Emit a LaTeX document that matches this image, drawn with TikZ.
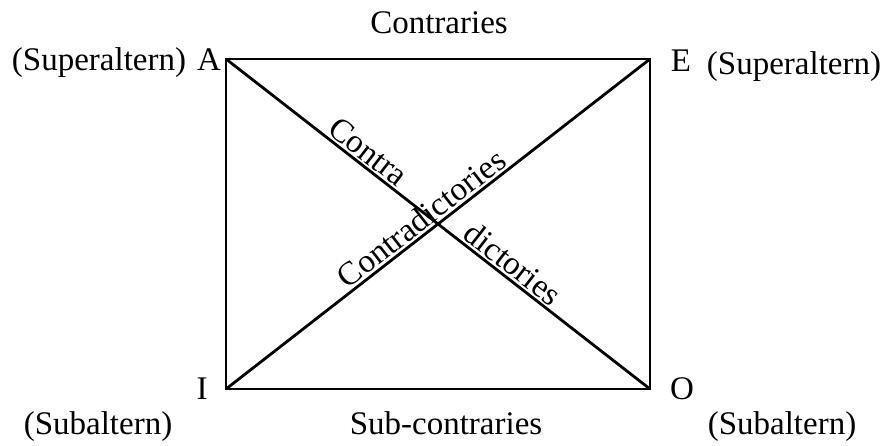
\documentclass[tikz,border=0pt]{standalone}
\usepackage{fontspec}
\setmainfont{Liberation Serif}
\begin{document}
\begin{tikzpicture}[x=0.5pt,y=-0.5pt,
  lbl/.style={font=\fontsize{16.5}{20}\selectfont, inner sep=0pt, anchor=base},
  diag/.style={font=\fontsize{16.5}{20}\selectfont, inner sep=1.5pt, sloped, above},
  edge/.style={line width=1.4pt, line join=miter}]
\useasboundingbox (0,0) rectangle (881,445);
\coordinate (A) at (226,59);
\coordinate (E) at (650,59);
\coordinate (O) at (650,389);
\coordinate (I) at (226,389);
\draw[edge] (A) -- (E) -- (O) -- (I) -- cycle;
\draw[edge] (A) -- (O);
\draw[edge] (I) -- (E);
\node[lbl] (contraries) at (439,33) {Contraries};
\node[lbl] (subcontraries) at (446,434) {Sub-contraries};
\node[lbl] (la) at (209,70) {A};
\node[lbl] (le) at (681,71) {E};
\node[lbl] (li) at (202,399) {I};
\node[lbl] (lo) at (682,399) {O};
\node[lbl] (supl) at (99,70) {(Superaltern)};
\node[lbl] (supr) at (794,74) {(Superaltern)};
\node[lbl] (subl) at (98,434) {(Subaltern)};
\node[lbl] (subr) at (782,434) {(Subaltern)};
\path (A) -- (O) node[diag, pos=0.315] (contra) {Contra};
\path (A) -- (O) node[diag, pos=0.655] (dictories) {dictories};
\path (I) -- (E) node[diag, pos=0.482] (contradictories) {Contradictories};
\end{tikzpicture}
\end{document}
